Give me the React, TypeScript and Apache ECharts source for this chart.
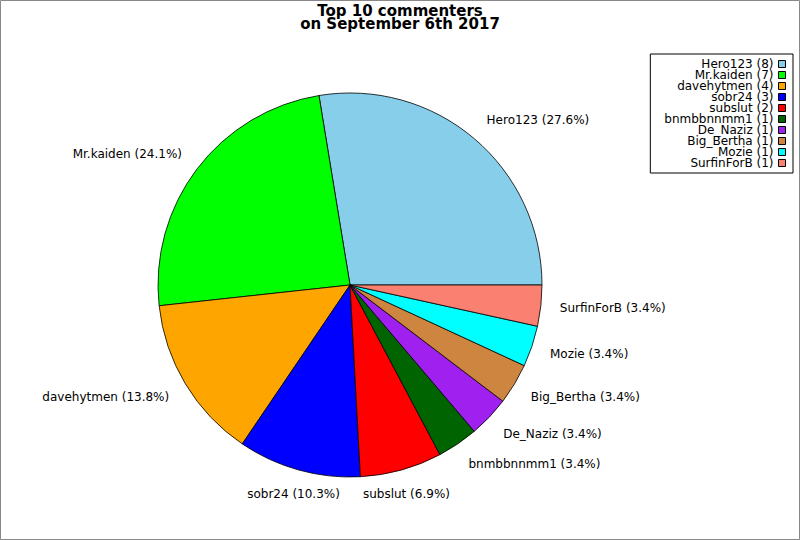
import React, { useEffect, useRef } from "react";
import * as echarts from "echarts";

const names = ["Hero123", "Mr.kaiden", "davehytmen", "sobr24", "subslut", "bnmbbnnmm1", "De_Naziz", "Big_Bertha", "Mozie", "SurfinForB"];
const counts = [8, 7, 4, 3, 2, 1, 1, 1, 1, 1];
const colors = ["#87CEEB", "#00FF00", "#FFA500", "#0000FF", "#FF0000", "#006400", "#A020F0", "#CD853F", "#00FFFF", "#FA8072"];
const titleLines = ["Top 10 commenters", "on September 6th 2017"];

const FONT = "DejaVu Sans";

export default function App() {
  const ref = useRef<HTMLDivElement>(null);
  useEffect(() => {
    if (!ref.current) return;
    const chart = echarts.init(ref.current, null, { renderer: "svg" });
    const total = counts.reduce((a, b) => a + b, 0);
    const midAngles: number[] = [];
    let cum = 0;
    counts.forEach((v) => {
      midAngles.push(((cum + v / 2) / total) * 2 * Math.PI);
      cum += v;
    });
    const countMap: Record<string, number> = {};
    names.forEach((n, i) => (countMap[n] = counts[i]));

    chart.setOption({
      animation: false,
      backgroundColor: "#fff",
      title: {
        text: titleLines.join("\n"),
        left: "center",
        top: 5,
        padding: 0,
        textStyle: { fontFamily: FONT, fontWeight: "bold", fontSize: 15, lineHeight: 12.5, color: "#000" },
      },
      legend: {
        orient: "vertical",
        right: 7,
        top: 54,
        align: "right",
        icon: "rect",
        itemWidth: 7,
        itemHeight: 7,
        itemGap: -1,
        borderColor: "#000",
        borderWidth: 1,
        borderRadius: 0,
        padding: [4, 7, 4, 14],
        selectedMode: false,
        textStyle: { fontFamily: FONT, fontSize: 12, lineHeight: 11, color: "#000" },
        itemStyle: { borderColor: "#000", borderWidth: 1 },
        formatter: (name: string) => `${name} (${countMap[name]})`,
        data: names,
      },
      graphic: [
        {
          type: "rect",
          shape: { x: 0.5, y: 0.5, width: 799, height: 539 },
          style: { fill: "none", stroke: "#888", lineWidth: 1 },
          silent: true,
        },
      ],
      series: [
        {
          type: "pie",
          center: [350, 285],
          radius: 192,
          startAngle: 0,
          clockwise: false,
          avoidLabelOverlap: false,
          emphasis: { disabled: true },
          itemStyle: { borderColor: "#000", borderWidth: 0.8 },
          label: {
            show: true,
            position: "outside",
            distanceToLabelLine: 0,
            fontFamily: FONT,
            fontSize: 12,
            color: "#000",
            formatter: (p: any) => `${p.name} (${((p.value / total) * 100).toFixed(1)}%)`,
          },
          labelLine: { show: false, length: 19, length2: 0 },
          labelLayout: (params: any) => {
            const i = params.dataIndex;
            const a = midAngles[i];
            const c = Math.cos(a);
            const s = Math.sin(a);
            const r = params.labelRect;
            const ax = c >= 0 ? r.x : r.x + r.width;
            const ay = r.y + r.height / 2;
            const align = Math.abs(c) < 0.4 ? "center" : c > 0 ? "left" : "right";
            return { x: ax, y: ay - s * 5.5, align, verticalAlign: "middle" };
          },
          data: names.map((n, i) => ({ name: n, value: counts[i], itemStyle: { color: colors[i] } })),
        },
      ],
    });
    return () => chart.dispose();
  }, []);
  return <div ref={ref} style={{ position: "fixed", left: 0, top: 0, width: 800, height: 540 }} />;
}
